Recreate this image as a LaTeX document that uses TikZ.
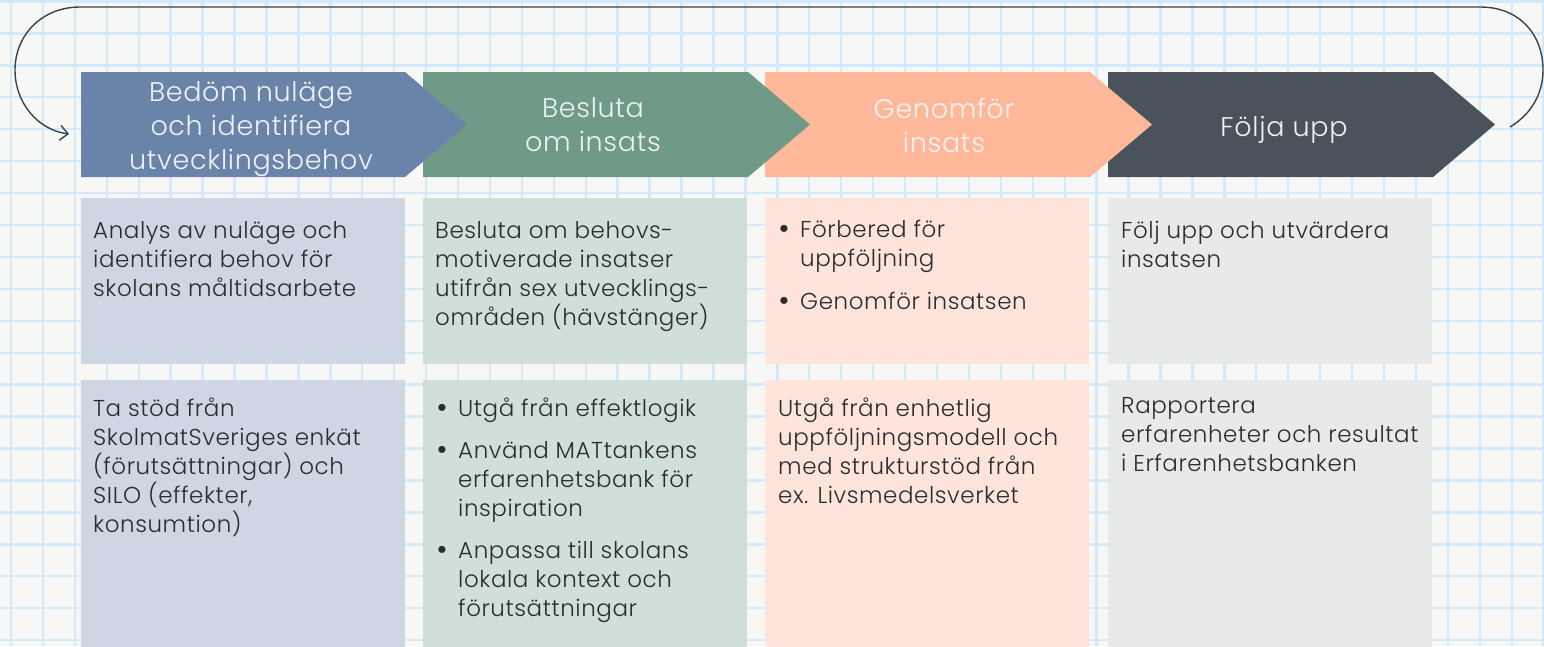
\documentclass[tikz,border=0pt]{standalone}
\usepackage{fontspec}
\setmainfont{Poppins Light}[LetterSpace=2.5]
\newfontfamily\bulfont{Poppins}
\usetikzlibrary{arrows.meta}
\definecolor{bg}{HTML}{F7F7F5}
\definecolor{gridc}{HTML}{D2EAFB}
\definecolor{ca}{HTML}{6A84A9}
\definecolor{cb}{HTML}{6F9A88}
\definecolor{cc}{HTML}{FFB899}
\definecolor{cd}{HTML}{4A535B}
\definecolor{la}{HTML}{CED6E3}
\definecolor{lb}{HTML}{D0DFD9}
\definecolor{lc}{HTML}{FFE4DB}
\definecolor{ld}{HTML}{E8E9EB}
\definecolor{txt}{HTML}{2A2C2E}
\definecolor{htxt}{HTML}{EEF2F5}
\definecolor{loopc}{HTML}{3A434C}
\newcommand{\bul}{\makebox[19pt][l]{\hspace*{-3pt}\raisebox{-1pt}{\scalebox{1.25}{\bulfont •}}}}
\newcommand{\ind}{\hspace*{19pt}}
\begin{document}
\begin{tikzpicture}[x=1pt,y=-1pt,
  gridline/.style={gridc, line width=2.4pt},
  box/.style={anchor=north west, inner sep=0pt, minimum width=324pt, draw=none},
  body/.style={anchor=north west, inner sep=0pt, align=left, text=txt,
    font=\fontsize{23}{29}\selectfont, execute at begin node=\strut},
  head/.style={anchor=north, inner sep=0pt, align=center, text=htxt,
    font=\fontsize{27}{34}\selectfont, execute at begin node=\strut},
  loopline/.style={draw=loopc, line width=1.4pt, -{Straight Barb[length=8pt,width=15pt,line width=1.4pt]}}]
\useasboundingbox (0,0) rectangle (1544,646);
\fill[bg] (0,0) rectangle (1544,646);
\foreach \i in {0,...,48} \draw[gridline] ({11+31.93*\i},0) -- ++(0,646);
\foreach \i in {0,...,20} \draw[gridline] (0,{1.5+31.93*\i}) -- ++(1544,0);

% chevrons (drawn right to left so each tip overlaps the next one)
\fill[cd] (1108,72) -- (1433,72) -- (1495,124.5) -- (1433,177) -- (1108,177) -- cycle;
\fill[cc] (765,72) -- (1090,72) -- (1152,124.5) -- (1090,177) -- (765,177) -- cycle;
\fill[cb] (423,72) -- (748,72) -- (810,124.5) -- (748,177) -- (423,177) -- cycle;
\fill[ca] (81,72) -- (405,72) -- (467,124.5) -- (405,177) -- (81,177) -- cycle;

\node[head] (h1) at (251,81) {Bedöm nuläge\\och identifiera\\utvecklingsbehov};
\node[head] (h2) at (593,97.5) {Besluta\\om insats};
\node[head] (h3) at (944,97.5) {Genomför\\insats};
\node[head] (h4) at (1284,112) {Följa upp};

% boxes
\node[box, fill=la, minimum height=166pt] (b11) at (81,198) {};
\node[box, fill=lb, minimum height=166pt] (b21) at (423,198) {};
\node[box, fill=lc, minimum height=166pt] (b31) at (765,198) {};
\node[box, fill=ld, minimum height=166pt] (b41) at (1108,198) {};
\node[box, fill=la, minimum height=270pt] (b12) at (81,380) {};
\node[box, fill=lb, minimum height=270pt] (b22) at (423,380) {};
\node[box, fill=lc, minimum height=270pt] (b32) at (765,380) {};
\node[box, fill=ld, minimum height=270pt] (b42) at (1108,380) {};

\node[body] (t11) at (93,221.2) {Analys av nuläge och\\identifiera behov för\\skolans måltidsarbete};
\node[body] (t21) at (435,221.2) {Besluta om behovs-\\motiverade insatser\\utifrån sex utvecklings-\\områden (hävstänger)};
\node[body] (t31) at (781,220.2) {\bul Förbered för\\\ind uppföljning\\[14pt]\bul Genomför insatsen};
\node[body] (t41) at (1121,221.2) {Följ upp och utvärdera\\insatsen};

\node[body] (t12) at (93,397.7) {Ta stöd från\\SkolmatSveriges enkät\\(förutsättningar) och\\SILO (effekter,\\konsumtion)};
\node[body] (t22) at (439,397.7) {\bul Utgå från effektlogik\\[13pt]\bul Använd MATtankens\\\ind erfarenhetsbank för\\\ind inspiration\\[13pt]\bul Anpassa till skolans\\\ind lokala kontext och\\\ind förutsättningar};
\node[body] (t32) at (778,397.7) {Utgå från enhetlig\\uppföljningsmodell och\\med strukturstöd från\\ex. Livsmedelsverket};
\node[body] (t42) at (1121,397.7) {Rapportera\\erfarenheter och resultat\\i Erfarenhetsbanken};

% loop connector
\coordinate (ls) at (1510,127);
\coordinate (le) at (69,134);
\draw[loopline] (ls) .. controls (1530,115) and (1543,95) .. (1543,70)
  .. controls (1543,35) and (1520,7) .. (1480,7) -- (80,7)
  .. controls (42,7) and (15,35) .. (15,70)
  .. controls (15,103) and (38,130) .. (le);
\end{tikzpicture}
\end{document}
